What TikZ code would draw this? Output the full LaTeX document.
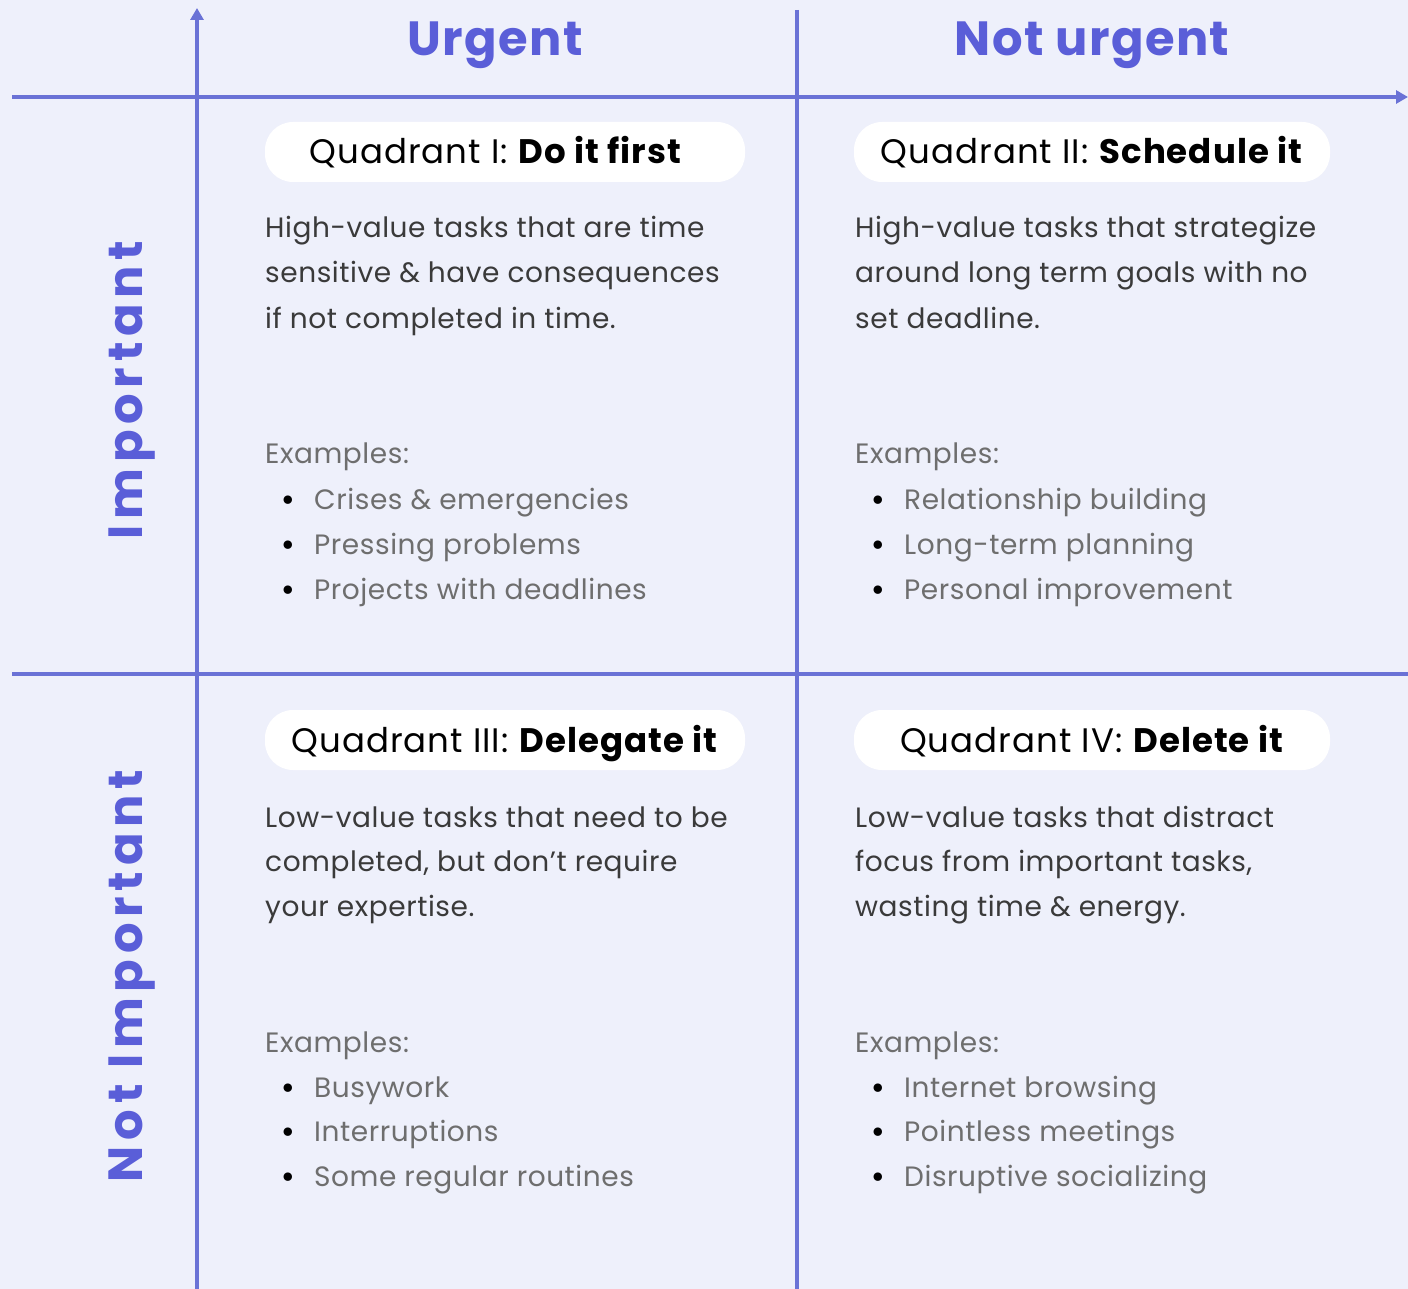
\documentclass[tikz,border=0pt]{standalone}
\usepackage{fontspec}
\setmainfont{Poppins}
\usetikzlibrary{arrows.meta}
\definecolor{bgc}{HTML}{EEF0FB}
\definecolor{axisc}{HTML}{6A72D6}
\definecolor{headc}{HTML}{5A5ED8}
\definecolor{bodyc}{HTML}{3A3A3A}
\definecolor{exc}{HTML}{6E6E6E}
\begin{document}
\begin{tikzpicture}[x=1pt,y=-1pt,
  axisline/.style={draw=axisc, line width=3.5pt},
  axisarrow/.style={axisline, -{Triangle[length=12pt,width=13pt]}},
  headtext/.style={font=\fontsize{48}{56}\selectfont\bfseries\addfontfeatures{LetterSpace=3}, text=headc, inner sep=0pt},
  sidetext/.style={font=\fontsize{48}{56}\selectfont\bfseries\addfontfeatures{LetterSpace=12}, text=headc, inner sep=0pt, rotate=90},
  pill/.style={fill=white, rounded corners=28pt, minimum height=60pt, inner sep=0pt, text height=25pt, text depth=1pt, font=\fontsize{34}{40}\selectfont\addfontfeatures{LetterSpace=3}, text=black},
  bodyline/.style={anchor=base west, inner sep=0pt, font=\fontsize{28}{32}\selectfont\addfontfeatures{LetterSpace=2}, text=bodyc},
  exline/.style={anchor=base west, inner sep=0pt, font=\fontsize{28}{32}\selectfont\addfontfeatures{LetterSpace=2}, text=exc},
  bul/.style={anchor=base, inner sep=0pt, font=\fontsize{28}{32}\selectfont\bfseries, text=black}
]
\fill[bgc] (0,0) rectangle (1408,1289);
\useasboundingbox (0,0) rectangle (1408,1289);

% axes
\coordinate (vb) at (197,1289);
\coordinate (vt) at (197,8);
\coordinate (hl) at (12,97);
\coordinate (hr) at (1408,97);
\coordinate (mt) at (797,10);
\coordinate (mb) at (797,1289);
\coordinate (ml) at (12,674);
\coordinate (mr) at (1408,674);
\draw[axisline] (mt) -- (mb);
\draw[axisline] (ml) -- (mr);
\draw[axisarrow] (vb) -- (vt);
\draw[axisarrow] (hl) -- (hr);

% headings
\node[headtext] (urg) at (495,45) {Urgent};
\node[headtext] (nurg) at (1092,45) {Not urgent};
\node[sidetext] (imp) at (132,390) {Important};
\node[sidetext] (nimp) at (132,976) {Not Important};

% pills
\node[pill, minimum width=480pt] (p1) at (505,152) {Quadrant I: \textbf{Do it first}\hspace*{18pt}};
\node[pill, minimum width=476pt] (p2) at (1092,152) {Quadrant II: \textbf{Schedule it}};
\node[pill, minimum width=480pt] (p3) at (505,740) {Quadrant III: \textbf{Delegate it}};
\node[pill, minimum width=476pt] (p4) at (1092,740) {Quadrant IV: \textbf{Delete it}};

% Quadrant I
\node[bodyline] (q1a) at (265,238) {High-value tasks that are time};
\node[bodyline] (q1b) at (265,283) {sensitive \& have consequences};
\node[bodyline] (q1c) at (265,328) {if not completed in time.};
\node[exline] (q1e) at (265,463) {Examples:};
\node[bul] (q1b1) at (288,509) {•};
\node[exline] (q1x1) at (314,509) {Crises \& emergencies};
\node[bul] (q1b2) at (288,554) {•};
\node[exline] (q1x2) at (314,554) {Pressing problems};
\node[bul] (q1b3) at (288,599) {•};
\node[exline] (q1x3) at (314,599) {Projects with deadlines};

% Quadrant II
\node[bodyline] (q2a) at (855,238) {High-value tasks that strategize};
\node[bodyline] (q2b) at (855,283) {around long term goals with no};
\node[bodyline] (q2c) at (855,328) {set deadline.};
\node[exline] (q2e) at (855,463) {Examples:};
\node[bul] (q2b1) at (878,509) {•};
\node[exline] (q2x1) at (904,509) {Relationship building};
\node[bul] (q2b2) at (878,554) {•};
\node[exline] (q2x2) at (904,554) {Long-term planning};
\node[bul] (q2b3) at (878,599) {•};
\node[exline] (q2x3) at (904,599) {Personal improvement};

% Quadrant III
\node[bodyline] (q3a) at (265,827) {Low-value tasks that need to be};
\node[bodyline] (q3b) at (265,871) {completed, but don't require};
\node[bodyline] (q3c) at (265,916) {your expertise.};
\node[exline] (q3e) at (265,1052) {Examples:};
\node[bul] (q3b1) at (288,1097) {•};
\node[exline] (q3x1) at (314,1097) {Busywork};
\node[bul] (q3b2) at (288,1141) {•};
\node[exline] (q3x2) at (314,1141) {Interruptions};
\node[bul] (q3b3) at (288,1186) {•};
\node[exline] (q3x3) at (314,1186) {Some regular routines};

% Quadrant IV
\node[bodyline] (q4a) at (855,827) {Low-value tasks that distract};
\node[bodyline] (q4b) at (855,871) {focus from important tasks,};
\node[bodyline] (q4c) at (855,916) {wasting time \& energy.};
\node[exline] (q4e) at (855,1052) {Examples:};
\node[bul] (q4b1) at (878,1097) {•};
\node[exline] (q4x1) at (904,1097) {Internet browsing};
\node[bul] (q4b2) at (878,1141) {•};
\node[exline] (q4x2) at (904,1141) {Pointless meetings};
\node[bul] (q4b3) at (878,1186) {•};
\node[exline] (q4x3) at (904,1186) {Disruptive socializing};
\end{tikzpicture}
\end{document}
